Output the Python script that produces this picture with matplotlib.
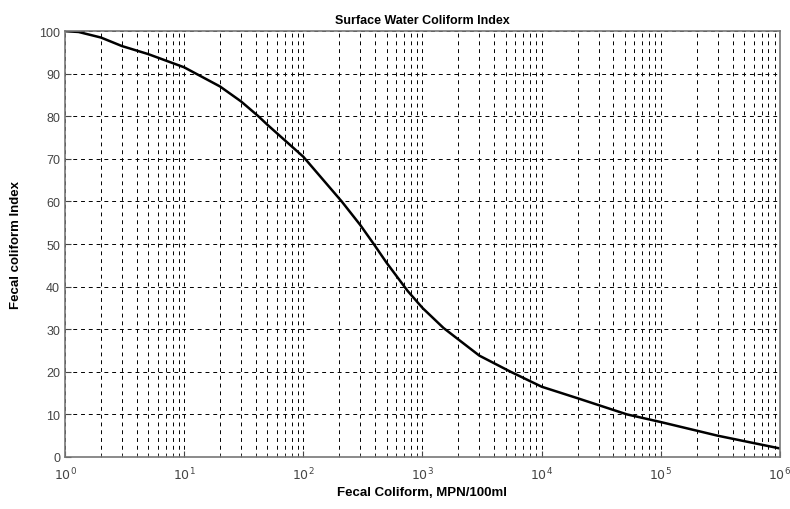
import numpy as np
import matplotlib
matplotlib.use('Agg')
import matplotlib.pyplot as plt
from matplotlib.ticker import MultipleLocator, NullFormatter

# values
fc = [1, 1.3, 2, 3, 5, 10, 20, 30, 42, 50, 100, 210, 300, 390, 500,
      750, 1000, 1500, 2000, 3000, 5500, 10000, 20000, 52000, 100000,
      300000, 1000000]
index = [100, 99.8, 98.5, 96.5, 94.6, 91.5, 87, 83.5, 80, 78, 70.5, 60,
         54.5, 50, 45.6, 39.0, 35.0, 30.3, 27.6, 23.8, 20, 16.5, 13.8, 10,
         8.2, 5, 2]

decades = [1e0, 1e1, 1e2, 1e3, 1e4, 1e5, 1e6]
decade_labels = ['$10^{0}$', '$10^{1}$', '$10^{2}$', '$10^{3}$',
                 '$10^{4}$', '$10^{5}$', '$10^{6}$']

plt.rcParams['font.family'] = ['Liberation Sans', 'DejaVu Sans']

fig = plt.figure(figsize=(7.9, 5.1), dpi=100)
ax = fig.add_axes([0.0823, 0.102, 0.905, 0.835])

ax.plot(fc, index, color='black', lw=1.8)

ax.set_xscale('log')
ax.set_xlim(1, 1e6)
ax.set_ylim(0, 100)
ax.yaxis.set_major_locator(MultipleLocator(10))
ax.set_xticks(decades)
ax.set_xticklabels(decade_labels)
minor = [m * d for d in decades[:-1] for m in range(2, 10)]
ax.set_xticks(minor, minor=True)
ax.xaxis.set_minor_formatter(NullFormatter())

ax.grid(True, which='both', axis='x', ls=(0, (4, 4)), color='black', lw=0.7)
ax.grid(True, which='major', axis='y', ls=(0, (4, 4)), color='black', lw=0.7)

ax.tick_params(which='both', direction='in', colors='#444444', labelsize=9)
ax.tick_params(which='major', length=4)
ax.tick_params(which='minor', length=2)
ax.tick_params(axis='x', pad=6)
for s in ax.spines.values():
    s.set_color('#777777')
    s.set_linewidth(1.2)

ax.set_title('Surface Water Coliform Index', fontsize=9, fontweight='bold', pad=6)
ax.set_xlabel('Fecal Coliform, MPN/100ml', fontsize=9.5, fontweight='bold', labelpad=3)
ax.set_ylabel('Fecal coliform Index', fontsize=9.5, fontweight='bold', labelpad=12)

fig.savefig('out.png', dpi=100)
